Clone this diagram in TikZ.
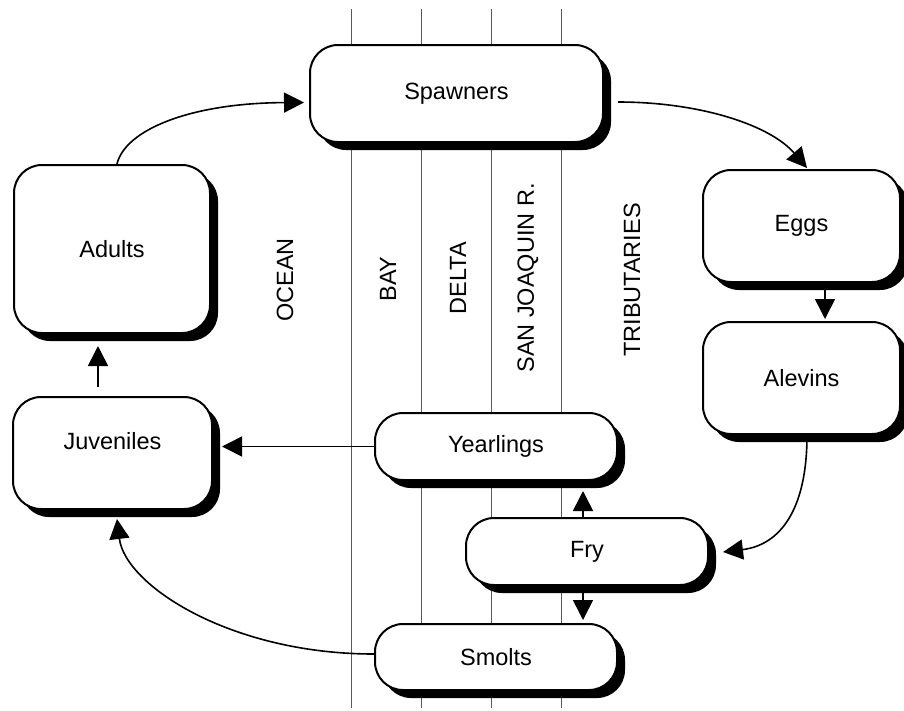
\documentclass[tikz,border=0pt]{standalone}
\usepackage{fontspec}
\setmainfont{Liberation Sans}
\usetikzlibrary{shadows,arrows.meta,calc}
\begin{document}
\begin{tikzpicture}[x=1pt,y=-1pt,
  stage/.style={draw, line width=2pt, rounded corners=28pt, fill=white, inner sep=0pt,
    font=\fontsize{23.5}{28}\selectfont,
    drop shadow={shadow xshift=8pt, shadow yshift=-8pt, opacity=1, fill=black}},
  region/.style={rotate=90, inner sep=0pt, font=\fontsize{23.5}{28}\selectfont},
  divider/.style={draw=black!65, line width=1pt},
  arr/.style={line width=1.6pt, -{Triangle[length=20pt,width=20pt]}}]
\useasboundingbox (0,0) rectangle (904,710);

% region dividers
\draw[divider] (351,9) -- (351,708);
\draw[divider] (421,9) -- (421,708);
\draw[divider] (491,9) -- (491,708);
\draw[divider] (561,9) -- (561,708);

% region labels
\node[region] (ocean) at (285,280) {OCEAN};
\node[region] (bay) at (388,279) {BAY};
\node[region] (delta) at (458,278) {DELTA};
\node[region] (sjr) at (528,278) {SAN JOAQUIN R.};
\node[region] (trib) at (632,280) {TRIBUTARIES};

% stages
\node[stage, minimum width=293pt, minimum height=97pt] (spawners) at (456.5,93.5) {Spawners};
\node[stage, minimum width=197pt, minimum height=112pt] (eggs) at (801.5,226) {Eggs};
\node[stage, minimum width=197pt, minimum height=112pt] (alevins) at (801.5,378) {Alevins};
\node[stage, minimum width=196pt, minimum height=168pt] (adults) at (112,249) {Adults};
\node[stage, minimum width=199pt, minimum height=112pt, text depth=25pt] (juveniles) at (112.5,453) {Juveniles};
\node[stage, minimum width=242pt, minimum height=67pt] (yearlings) at (496,446.5) {Yearlings};
\node[stage, minimum width=242pt, minimum height=67pt] (fry) at (587,551.5) {Fry};
\node[stage, minimum width=242pt, minimum height=66pt] (smolts) at (496,657) {Smolts};

% connectors
\draw[arr] ($(adults.north)+(5,0)$) .. controls (125,130) and (190,103) .. ($(spawners.west)+(-5,9)$);
\draw[arr] ($(spawners.east)+(14,8.5)$) .. controls (700,102) and (770,125) .. ($(eggs.north)+(5.5,-1)$);
\draw[arr] ($(eggs.south)+(23.5,0)$) -- ($(alevins.north)+(23.5,-2)$);
\draw[arr] ($(alevins.south)+(5.5,0)$) .. controls (807,510) and (780,545) .. ($(fry.east)+(14,0.5)$);
\draw[arr] ($(fry.north)+(-4,0)$) -- ($(fry.north |- yearlings.south)+(-4,10)$);
\draw[arr] ($(fry.south)+(-4,0)$) -- ($(fry.south |- smolts.north)+(-4,-3)$);
\draw[arr] (yearlings.west) -- ($(yearlings.west -| juveniles.east)+(9,0)$);
\draw[arr] ($(juveniles.north)+(-14.5,-9)$) -- ($(adults.south)+(-14,12)$);
\draw[arr] ($(smolts.west)+(0,-3)$) .. controls (230,654) and (125,585) .. ($(juveniles.south)+(4.5,9)$);
\end{tikzpicture}
\end{document}
